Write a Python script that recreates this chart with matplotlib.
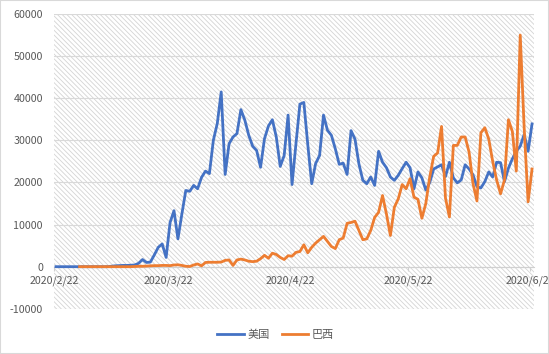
import matplotlib
matplotlib.use('Agg')
import matplotlib.pyplot as plt
import matplotlib.dates as mdates
from matplotlib.patches import Rectangle
import numpy as np
import pandas as pd

plt.rcParams['font.family'] = ['Noto Sans CJK SC', 'DejaVu Sans']
plt.rcParams['hatch.linewidth'] = 0.6

# 每日新增病例 2020/2/22 - 2020/6/22
dates = pd.date_range('2020-02-22', '2020-06-22')

us = [0, 0, 0, 0, 0, 0, 0, 0, 0, 0,
      0, 0, 0, 0, 100, 200, 250, 300, 300, 350,
      400, 800, 1700, 1000, 1100, 2800, 4600, 5400, 2200, 10500,
      13300, 6600, 12500, 18100, 17900, 19300, 18500, 21200, 22700, 22100,
      30000, 34000, 41500, 21900, 29200, 30800, 31600, 37300, 34800, 31200,
      28600, 27600, 23600, 30400, 33400, 34900, 30800, 23800, 26400, 36000,
      19500, 29200, 38600, 39000, 29000, 19700, 24500, 26400, 36000, 32400,
      31200, 28000, 24300, 24600, 21900, 32300, 30300, 24400, 20500, 19700,
      21300, 19300, 27400, 24800, 23500, 21300, 20500, 21700, 23300, 24800,
      23500, 18500, 22500, 21100, 18200, 20000, 23200, 23700, 24200, 21400,
      24800, 21100, 19900, 20600, 24200, 23200, 21800, 19000, 18700, 20200,
      22500, 21300, 24800, 24700, 20200, 23400, 25600, 27400, 28600, 31400,
      27400, 33900]

brazil = [np.nan] * 6 + [0] * 14 + [
      50, 100, 100, 150, 200, 250, 250, 300, 300, 250,
      400, 450, 300, 100, 50, 400, 650, 200, 1000, 1050,
      1050, 1050, 1100, 1500, 1600, 300, 1600, 1800, 1600, 1300,
      1200, 1300, 1900, 2700, 2000, 3200, 2900, 2200, 1700, 2600,
      2500, 3400, 3600, 5200, 3300, 4600, 5600, 6400, 7200, 6000,
      4800, 4300, 6400, 6800, 10300, 10500, 10800, 8600, 6400, 6600,
      8600, 11700, 12900, 16900, 12500, 7400, 14100, 16100, 19500, 18500,
      20900, 16500, 16000, 11500, 15000, 21300, 26200, 27000, 33300, 16300,
      11800, 28800, 28800, 30800, 30800, 27200, 19700, 15600, 31800, 33000,
      30300, 25000, 20600, 17300, 20600, 34900, 32100, 22700, 55000, 33000,
      15400, 23200]

tick_dates = ['2020-02-22', '2020-03-22', '2020-04-22', '2020-05-22', '2020-06-22']
tick_labels = ['2020/2/22', '2020/3/22', '2020/4/22', '2020/5/22', '2020/6/22']
y_ticks = list(range(-10000, 60001, 10000))

W, H = 549, 354
fig = plt.figure(figsize=(W / 100, H / 100), dpi=100)
ax = fig.add_axes([54 / W, 1 - 308.8 / H, 480 / W, (308.8 - 14) / H])
ax.set_facecolor('white')

# 斜线底纹
ax.add_patch(Rectangle((0, 0), 1, 1, transform=ax.transAxes, facecolor='white',
                       edgecolor='#d4d4d4', lw=0, hatch='\\' * 7, zorder=0))

# Excel 日期轴: 点位于刻度之间
x = mdates.date2num(dates) + 0.5
ax.plot(x, us, color='#4472C4', lw=2, label='美国', zorder=3)
ax.plot(x, brazil, color='#ED7D31', lw=2, label='巴西', zorder=3)

ax.set_xlim(mdates.date2num(pd.Timestamp('2020-02-22')),
            mdates.date2num(pd.Timestamp('2020-06-23')))
ax.set_ylim(-10000, 60000)
ax.set_yticks(y_ticks)
ax.set_yticklabels([str(v) for v in y_ticks])
ax.set_xticks(mdates.date2num(pd.to_datetime(tick_dates)))
ax.set_xticklabels(tick_labels)

ax.yaxis.grid(True, color='#d9d9d9', lw=0.8, zorder=1)
ax.set_axisbelow(True)

for s in ['top', 'right', 'left']:
    ax.spines[s].set_visible(False)
ax.spines['bottom'].set_position(('data', 0))
ax.spines['bottom'].set_color('#d0d0d0')
ax.spines['bottom'].set_zorder(2)

ax.tick_params(axis='y', length=0, pad=8, labelsize=7.7, labelcolor='#595959')
ax.tick_params(axis='x', length=3, color='#d0d0d0', direction='out', pad=3,
               labelsize=7.7, labelcolor='#595959')

leg = fig.legend(loc='center', bbox_to_anchor=(275.5 / W, 1 - 334.3 / H), ncol=2,
                 frameon=False, fontsize=8, handlelength=2.4, handletextpad=0.3,
                 columnspacing=1.1)
for t in leg.get_texts():
    t.set_color('#595959')

fig.add_artist(Rectangle((0, 0), 1, 1, transform=fig.transFigure, fill=False,
                         edgecolor='#d9d9d9', lw=1.5))

fig.savefig('out.png', dpi=100)
